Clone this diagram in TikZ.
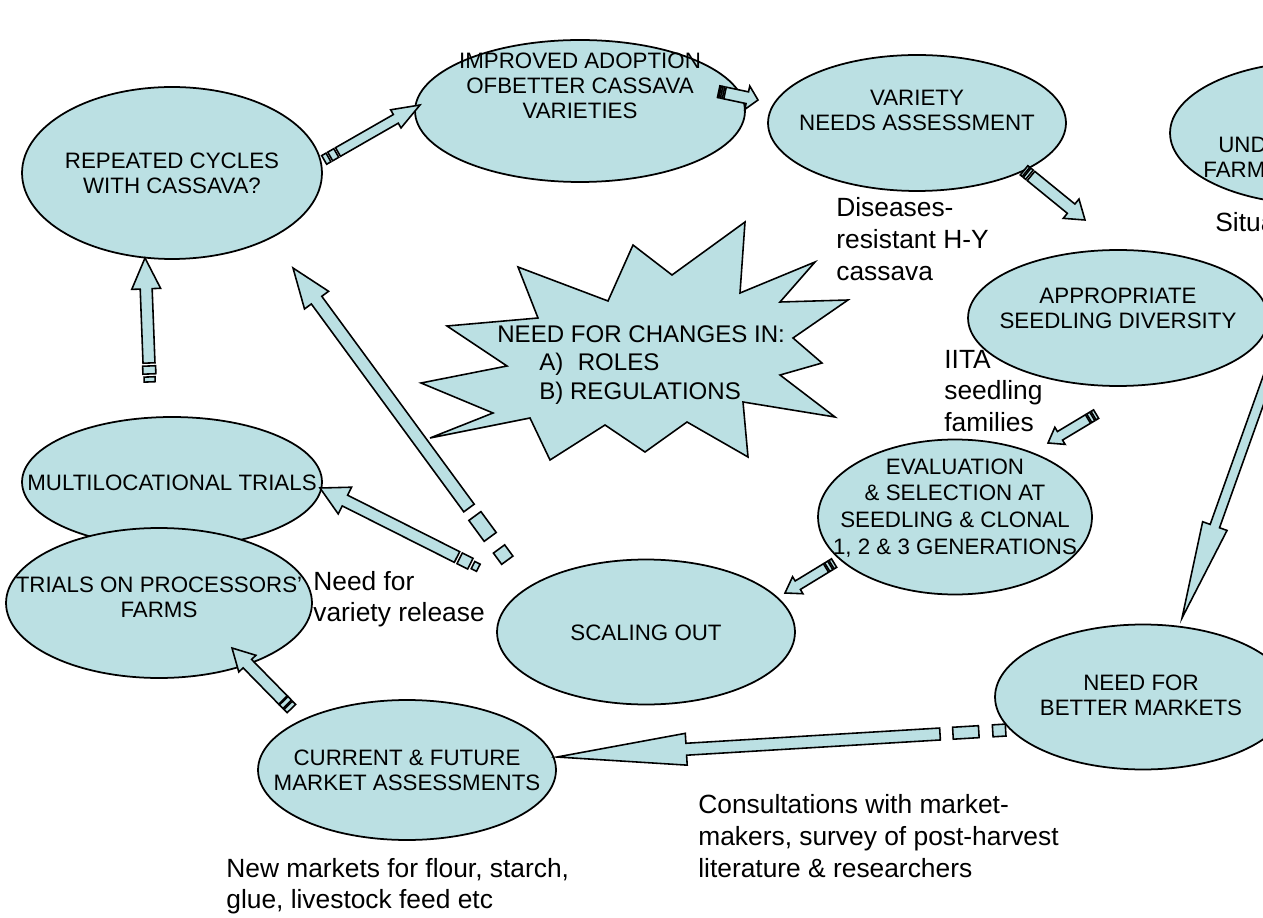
\documentclass[tikz,border=0pt]{standalone}
\usepackage{fontspec}
\setmainfont{Liberation Sans}
\usetikzlibrary{shapes.geometric,calc}
\definecolor{bl}{RGB}{187,224,227}
\tikzset{
  ell/.style={ellipse, draw, fill=bl, line width=1pt, inner sep=0pt},
  arr/.style={draw, fill=bl, line width=0.9pt, line join=miter},
  etxt/.style={font=\fontsize{12.7}{14.2}\selectfont, align=center, inner sep=0pt},
  annot/.style={font=\fontsize{15}{18}\selectfont, align=left, anchor=west, inner sep=0pt},
}
% #1 tail, #2 tip, #3 shaft half width (px), #4 head half width (px), #5 head length (px)
\newcommand\blockarrow[5]{%
  \coordinate (ba-t) at #1; \coordinate (ba-h) at #2;
  \coordinate (ba-b) at ($(ba-h)!#5*0.5669pt!(ba-t)$);
  \draw[arr] ($(ba-t)!#3*0.5669pt!90:(ba-h)$) -- ($(ba-b)!#3*0.5669pt!-90:(ba-t)$)
    -- ($(ba-b)!#4*0.5669pt!-90:(ba-t)$) -- (ba-h) -- ($(ba-b)!#4*0.5669pt!90:(ba-t)$)
    -- ($(ba-b)!#3*0.5669pt!90:(ba-t)$) -- ($(ba-t)!#3*0.5669pt!-90:(ba-h)$) -- cycle;}
% stripe behind tail: #1 tail, #2 tip, #3 from dist, #4 to dist, #5 half width
\newcommand\tstripe[5]{%
  \coordinate (ts-t) at #1; \coordinate (ts-h) at #2;
  \coordinate (ts-p) at ($(ts-t)!-#3*0.5669pt!(ts-h)$);
  \coordinate (ts-q) at ($(ts-t)!-#4*0.5669pt!(ts-h)$);
  \draw[arr] ($(ts-p)!#5*0.5669pt!90:(ts-q)$) -- ($(ts-q)!#5*0.5669pt!-90:(ts-p)$)
    -- ($(ts-q)!#5*0.5669pt!90:(ts-p)$) -- ($(ts-p)!#5*0.5669pt!-90:(ts-q)$) -- cycle;}
\begin{document}
\begin{tikzpicture}[x=0.02cm,y=-0.02cm]
\useasboundingbox (0,0) rectangle (1263,918);
\clip (0,0) rectangle (1263,918);

% ellipses
\node[ell, minimum width=6cm, minimum height=3.44cm] (rep) at (172,173) {};
\node[ell, minimum width=6.6cm, minimum height=2.84cm] (imp) at (580,111) {};
\node[ell, minimum width=5.96cm, minimum height=2.72cm] (var) at (917,123) {};
\node[ell, minimum width=5.92cm, minimum height=2.86cm] (und) at (1318,133) {};
\node[ell, minimum width=6cm, minimum height=2.72cm] (app) at (1118,318) {};
\node[ell, minimum width=5.48cm, minimum height=3.1cm] (eval) at (955,517) {};
\node[ell, minimum width=5.96cm, minimum height=2.9cm] (scal) at (646,632) {};
\node[ell, minimum width=6cm, minimum height=2.6cm] (mult) at (172,482) {};
\node[ell, minimum width=6.12cm, minimum height=3cm] (tri) at (159,603) {};
\node[ell, minimum width=5.96cm, minimum height=2.8cm] (cur) at (407,770) {};
\node[ell, minimum width=5.92cm, minimum height=2.9cm] (need) at (1143,697) {};

% star
\draw[arr] (745,222) -- (740,293) -- (815,262) -- (780,302) -- (848,300) -- (793,338)
  -- (822,363) -- (780,375) -- (835,417) -- (743,402) -- (748,457) -- (687,422)
  -- (645,452) -- (605,425) -- (550,460) -- (530,418) -- (430,438) -- (493,413)
  -- (421,383) -- (507,366) -- (447,326) -- (538,318) -- (518,267) -- (608,301)
  -- (633,245) -- (672,275) -- cycle;

% arrows
% REPEATED -> IMPROVED
\blockarrow{(338,152)}{(420,105)}{5}{10.5}{28}
\tstripe{(338,152)}{(420,105)}{2}{9}{5}
\tstripe{(338,152)}{(420,105)}{11}{16}{5}
% IMPROVED -> VARIETY
\blockarrow{(725,93)}{(758,100)}{6}{12}{11}
\tstripe{(725,93)}{(758,100)}{1.5}{3.5}{6}
\tstripe{(725,93)}{(758,100)}{5}{6.5}{6}
% VARIETY -> APPROPRIATE
\blockarrow{(1031,176)}{(1085,220)}{6}{12.5}{18}
\tstripe{(1031,176)}{(1085,220)}{2}{5}{6}
\tstripe{(1031,176)}{(1085,220)}{6.5}{9}{6}
% APPROPRIATE -> EVALUATION
\blockarrow{(1088,419)}{(1048,443)}{5}{10}{14}
\tstripe{(1088,419)}{(1048,443)}{1.5}{5}{5}
\tstripe{(1088,419)}{(1048,443)}{6.5}{9.5}{5}
% EVALUATION -> SCALING OUT
\blockarrow{(826,568)}{(785,593)}{5}{10}{15}
\tstripe{(826,568)}{(785,593)}{1.5}{5}{5}
\tstripe{(826,568)}{(785,593)}{6.5}{9.5}{5}
% -> MULTILOCATIONAL
\blockarrow{(457,557)}{(320,488)}{6}{15}{28}
\tstripe{(457,557)}{(320,488)}{3}{15}{6}
\tstripe{(457,557)}{(320,488)}{18}{24}{4}
% -> REPEATED (long)
\blockarrow{(469,508)}{(293,268)}{6.5}{15}{40}
\tstripe{(469,508)}{(293,268)}{10}{36}{7.5}
\tstripe{(469,508)}{(293,268)}{51}{65}{7}
% MULTILOCATIONAL -> REPEATED
\blockarrow{(149,363)}{(145,258)}{6}{14.5}{31}
\tstripe{(149,363)}{(145,258)}{3}{11}{6.5}
\tstripe{(149,363)}{(145,258)}{14}{19}{5.5}
% CURRENT -> TRIALS
\blockarrow{(283,700)}{(232,648)}{6}{12}{22}
\tstripe{(283,700)}{(232,648)}{1}{6}{6}
\tstripe{(283,700)}{(232,648)}{7.5}{12}{6}
% NEED FOR BETTER MARKETS -> CURRENT
\blockarrow{(940,734)}{(557,757)}{6}{16}{130}
\tstripe{(940,734)}{(557,757)}{13}{39}{6}
\tstripe{(940,734)}{(557,757)}{53}{66}{6}
% APPROPRIATE -> NEED FOR BETTER MARKETS
\blockarrow{(1282,338)}{(1182,618)}{5}{13}{98}

% ellipse texts
\node[etxt] (rep-t) at (172,173) {REPEATED CYCLES\\WITH CASSAVA?};
\node[etxt] (imp-t) at (580,86) {IMPROVED ADOPTION\\OFBETTER CASSAVA\\VARIETIES};
\node[etxt] (var-t) at (917,110) {VARIETY\\NEEDS ASSESSMENT};
\node[etxt, anchor=west] (und-t1) at (1218,145) {UND};
\node[etxt, anchor=west] (und-t2) at (1203,170) {FARM};
\node[etxt] (app-t) at (1118,308) {APPROPRIATE\\SEEDLING DIVERSITY};
\node[etxt, font=\fontsize{12.7}{15.3}\selectfont] (eval-t) at (955,508) {EVALUATION\\\& SELECTION AT\\SEEDLING \& CLONAL\\1, 2 \& 3 GENERATIONS};
\node[etxt] (scal-t) at (646,633) {SCALING OUT};
\node[etxt] (mult-t) at (172,483) {MULTILOCATIONAL TRIALS};
\node[etxt] (tri-t) at (159,597) {TRIALS ON PROCESSORS’\\FARMS};
\node[etxt] (cur-t) at (407,770) {CURRENT \& FUTURE\\MARKET ASSESSMENTS};
\node[etxt] (need-t) at (1141,695) {NEED FOR\\BETTER MARKETS};

% star text
\node[annot, font=\fontsize{13.7}{16.4}\selectfont] (star-t) at (497,365) {NEED FOR CHANGES IN:\\\hspace*{0.84cm}A)\hspace{0.6em}ROLES\\\hspace*{0.84cm}B) REGULATIONS};

% annotations
\node[annot] (dis) at (836,239) {Diseases-\\resistant H-Y\\cassava};
\node[annot] (sit) at (1215,222) {Situa};
\node[annot] (iita) at (944,391) {IITA\\seedling\\families};
\node[annot] (nfv) at (313,599) {Need for\\variety release};
\node[annot] (cons) at (698,836) {Consultations with market-\\makers, survey of post-harvest\\literature \& researchers};
\node[annot] (newm) at (226,886) {New markets for flour, starch,\\glue, livestock feed etc};
\end{tikzpicture}
\end{document}
